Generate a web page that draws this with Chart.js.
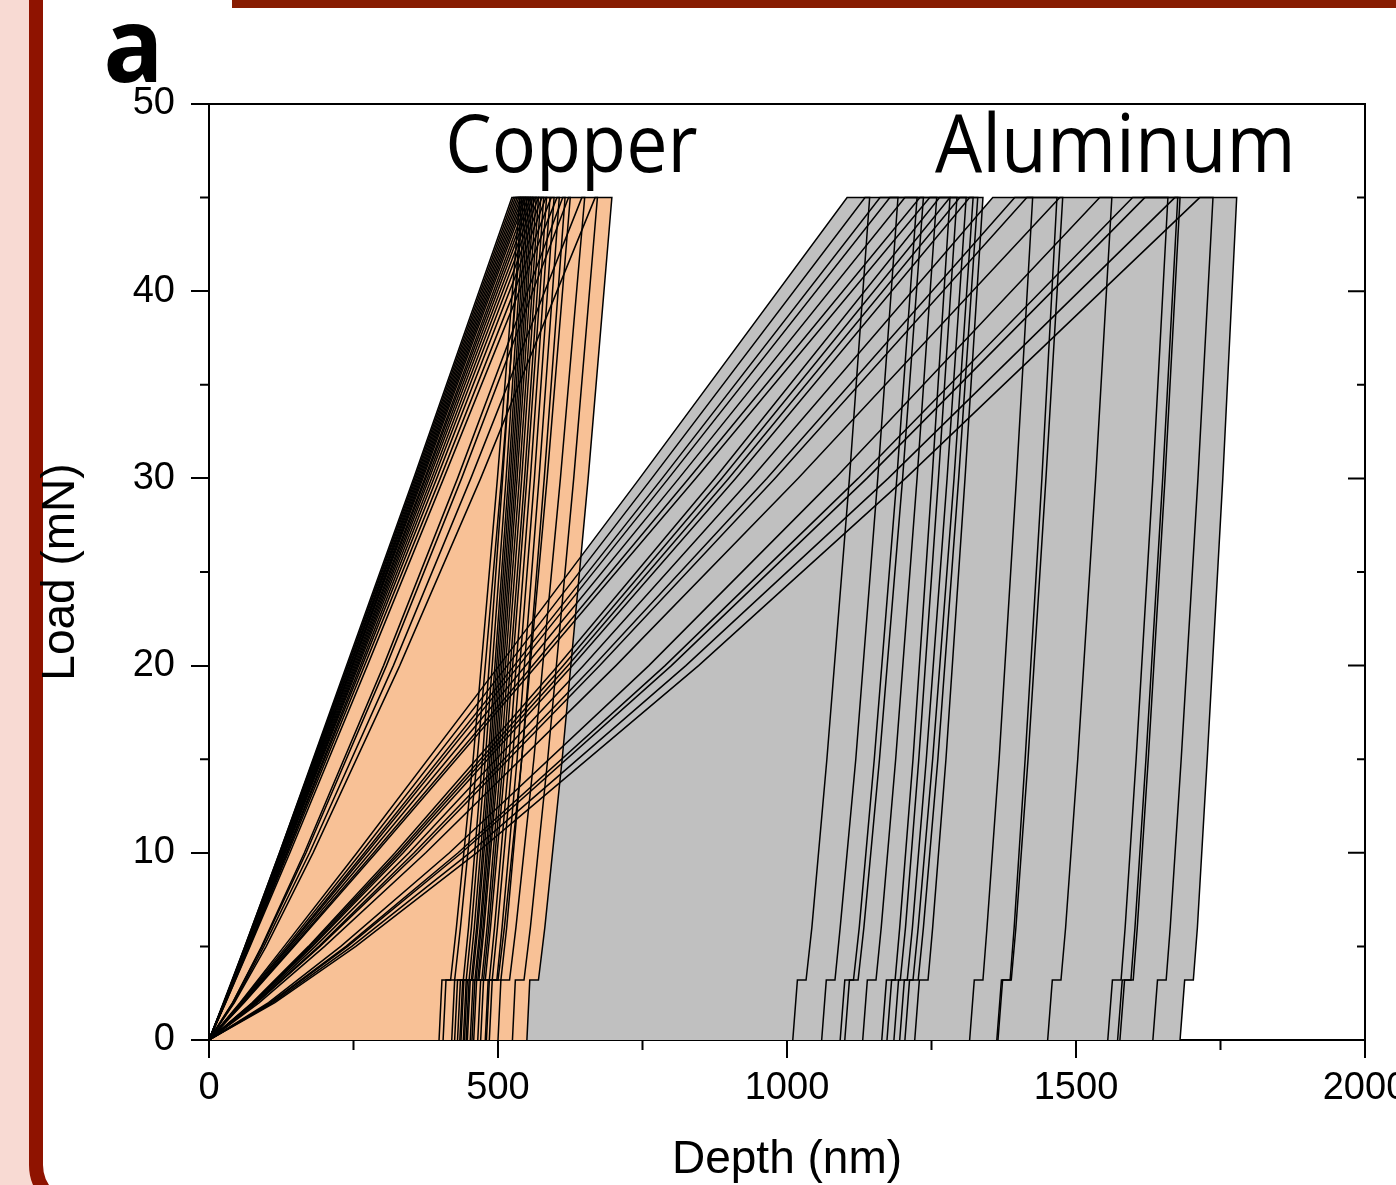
<!DOCTYPE html>
<html>
<head>
<meta charset="utf-8">
<script src="https://cdn.jsdelivr.net/npm/chart.js@4.4.1/dist/chart.umd.min.js"></script>
<style>
  html, body { margin: 0; padding: 0; width: 1396px; height: 1185px; overflow: hidden; background: #f8dad3; }
  #panel {
    position: absolute; left: 29px; top: -80px; width: 1500px; height: 1295px;
    box-sizing: border-box; border: 14px solid #8f1300; border-radius: 50px; background: #fff;
  }
  #topbar { position: absolute; left: 232px; top: 0; width: 1200px; height: 8px; background: #881d02; }
  #chartBox { position: absolute; left: 0; top: 0; width: 1440px; height: 1230px; }
</style>
</head>
<body>
<div id="panel"></div>
<div id="topbar"></div>
<div id="chartBox"><canvas id="chart"></canvas></div>
<script>
// load levels (mN) shared by every curve
const loadingLoads = [0, 2, 5, 10, 20, 30, 45];
const unloadingLoads = [45, 30, 15, 6, 3.2, 3.2, 0];

// depth (nm) of each copper curve at loadingLoads / unloadingLoads
const copperLoading = [
  [0, 25, 62, 122, 238, 354, 524],
  [0, 26, 62, 122, 240, 356, 527],
  [0, 26, 63, 123, 241, 358, 530],
  [0, 26, 63, 124, 243, 360, 533],
  [0, 26, 63, 124, 244, 362, 536],
  [0, 26, 64, 125, 245, 364, 539],
  [0, 26, 64, 126, 247, 366, 542],
  [0, 27, 64, 126, 248, 368, 545],
  [0, 27, 65, 127, 249, 370, 548],
  [0, 27, 65, 128, 251, 373, 552],
  [0, 27, 66, 129, 253, 375, 556],
  [0, 27, 66, 130, 255, 378, 560],
  [0, 28, 67, 131, 257, 381, 565],
  [0, 28, 67, 132, 259, 385, 570],
  [0, 28, 68, 134, 262, 389, 576],
  [0, 28, 69, 135, 265, 394, 583],
  [0, 29, 70, 137, 269, 400, 592],
  [0, 29, 71, 140, 274, 406, 602],
  [0, 41, 91, 165, 302, 430, 612],
  [0, 41, 92, 168, 307, 437, 622],
  [0, 43, 95, 174, 319, 453, 645],
  [0, 44, 99, 180, 330, 470, 668]
];
const copperUnloading = [
  [538, 499, 457, 428, 418, 403, 398],
  [541, 508, 473, 449, 440, 425, 420],
  [544, 506, 464, 435, 425, 410, 405],
  [547, 514, 478, 454, 445, 430, 425],
  [550, 518, 483, 459, 450, 435, 430],
  [553, 521, 486, 463, 454, 439, 434],
  [556, 524, 489, 465, 456, 441, 436],
  [559, 527, 492, 469, 460, 445, 440],
  [562, 530, 495, 471, 462, 447, 442],
  [566, 533, 498, 474, 465, 450, 445],
  [570, 537, 501, 476, 467, 452, 447],
  [574, 541, 505, 481, 472, 457, 452],
  [579, 546, 509, 484, 475, 460, 455],
  [584, 550, 513, 487, 478, 463, 458],
  [590, 556, 519, 494, 485, 470, 465],
  [597, 563, 525, 499, 490, 475, 470],
  [606, 571, 533, 507, 498, 483, 478],
  [616, 580, 541, 515, 505, 490, 485],
  [625, 585, 541, 511, 500, 485, 480],
  [650, 608, 562, 531, 520, 505, 500],
  [672, 631, 586, 556, 545, 530, 525],
  [697, 656, 611, 581, 570, 555, 550]
];

const aluminumLoading = [
  [0, 54, 130, 256, 502, 745, 1104],
  [0, 55, 134, 263, 516, 766, 1135],
  [0, 57, 137, 269, 528, 784, 1161],
  [0, 57, 139, 273, 536, 795, 1178],
  [0, 59, 142, 279, 548, 813, 1204],
  [0, 60, 145, 285, 560, 830, 1230],
  [0, 61, 147, 289, 567, 842, 1247],
  [0, 75, 172, 322, 604, 875, 1264],
  [0, 76, 174, 327, 613, 887, 1282],
  [0, 77, 177, 331, 621, 899, 1299],
  [0, 78, 179, 336, 629, 911, 1316],
  [0, 80, 184, 346, 648, 938, 1356],
  [0, 82, 190, 355, 666, 965, 1394],
  [0, 83, 192, 361, 676, 979, 1415],
  [0, 87, 200, 375, 704, 1019, 1472],
  [0, 103, 228, 416, 761, 1083, 1541],
  [0, 106, 237, 431, 789, 1123, 1598],
  [0, 108, 240, 437, 800, 1138, 1619],
  [0, 111, 247, 451, 825, 1175, 1671],
  [0, 114, 254, 463, 847, 1205, 1714]
];
const aluminumUnloading = [
  [1143, 1108, 1069, 1043, 1033, 1018, 1010],
  [1192, 1157, 1119, 1092, 1083, 1068, 1060],
  [1225, 1190, 1151, 1125, 1115, 1100, 1092],
  [1236, 1200, 1160, 1133, 1123, 1108, 1100],
  [1259, 1225, 1188, 1163, 1154, 1139, 1131],
  [1282, 1251, 1218, 1195, 1187, 1172, 1164],
  [1294, 1262, 1228, 1205, 1196, 1181, 1173],
  [1310, 1277, 1241, 1217, 1208, 1193, 1185],
  [1322, 1289, 1252, 1227, 1218, 1203, 1195],
  [1330, 1297, 1261, 1236, 1227, 1212, 1204],
  [1339, 1308, 1275, 1252, 1244, 1229, 1221],
  [1425, 1397, 1367, 1346, 1339, 1324, 1316],
  [1467, 1441, 1412, 1393, 1386, 1371, 1363],
  [1477, 1448, 1417, 1396, 1388, 1373, 1365],
  [1562, 1534, 1503, 1482, 1474, 1459, 1451],
  [1659, 1633, 1604, 1585, 1578, 1563, 1555],
  [1676, 1650, 1621, 1602, 1595, 1580, 1572],
  [1680, 1654, 1625, 1606, 1599, 1584, 1576],
  [1737, 1711, 1682, 1663, 1656, 1641, 1633],
  [1778, 1754, 1727, 1710, 1703, 1688, 1680]
];

const xMinorTicks = [250, 750, 1250, 1750];
const yMajorTicks = [0, 10, 20, 30, 40, 50];
const yMinorTicks = [5, 15, 25, 35, 45];

const COPPER_FILL = '#f8c196';
const ALUMINUM_FILL = '#c0c0c0';
const AXIS_FONT = '"Liberation Sans", Arial, sans-serif';

function curvePoints(loadDepths, unloadDepths) {
  const pts = loadDepths.map((d, i) => ({ x: d, y: loadingLoads[i] }));
  unloadDepths.forEach((d, i) => pts.push({ x: d, y: unloadingLoads[i] }));
  return pts;
}

const datasets = [];
// copper first so its fill ends up over the aluminum fill
copperLoading.forEach((row, i) => {
  datasets.push({ data: curvePoints(row, copperUnloading[i]), backgroundColor: COPPER_FILL });
});
aluminumLoading.forEach((row, i) => {
  datasets.push({ data: curvePoints(row, aluminumUnloading[i]), backgroundColor: ALUMINUM_FILL });
});
datasets.forEach(ds => {
  Object.assign(ds, {
    showLine: true, fill: 'shape', borderColor: '#000', borderWidth: 1.5,
    pointRadius: 0, tension: 0
  });
});

// top/right frame, minor ticks and the inward ticks on the right side
const frameTicks = {
  id: 'frameTicks',
  afterDraw(chart) {
    const { ctx, chartArea: a, scales: { x, y } } = chart;
    ctx.save();
    ctx.strokeStyle = '#000';
    ctx.lineWidth = 2;
    ctx.beginPath();
    ctx.moveTo(a.left, a.top);
    ctx.lineTo(a.right, a.top);
    ctx.lineTo(a.right, a.bottom);
    xMinorTicks.forEach(v => {
      const px = x.getPixelForValue(v);
      ctx.moveTo(px, a.bottom);
      ctx.lineTo(px, a.bottom + 10);
    });
    yMinorTicks.forEach(v => {
      const py = y.getPixelForValue(v);
      ctx.moveTo(a.left, py);
      ctx.lineTo(a.left - 9, py);
      ctx.moveTo(a.right, py);
      ctx.lineTo(a.right - 8, py);
    });
    yMajorTicks.forEach(v => {
      const py = y.getPixelForValue(v);
      ctx.moveTo(a.right, py);
      ctx.lineTo(a.right - 17, py);
    });
    ctx.stroke();
    ctx.restore();
  }
};

// panel letter and material names
const panelText = [
  { text: 'a', left: 107, base: 82, width: 49, font: 'bold 104px "Open Sans"' },
  { text: 'Copper', left: 449, base: 172, width: 248, font: '80px "Open Sans"' },
  { text: 'Aluminum', left: 935, base: 172, width: 355, font: '80px "Open Sans"' }
];
const textLabels = {
  id: 'textLabels',
  afterDraw(chart) {
    const ctx = chart.ctx;
    panelText.forEach(t => {
      ctx.save();
      ctx.font = t.font;
      ctx.fillStyle = '#000';
      ctx.textBaseline = 'alphabetic';
      const m = ctx.measureText(t.text);
      const w = m.actualBoundingBoxLeft + m.actualBoundingBoxRight;
      ctx.translate(t.left, t.base);
      ctx.scale(t.width / w, 1);
      ctx.fillText(t.text, m.actualBoundingBoxLeft, 0);
      ctx.restore();
    });
  }
};

new Chart(document.getElementById('chart'), {
  type: 'scatter',
  data: { datasets },
  options: {
    responsive: true,
    maintainAspectRatio: false,
    animation: false,
    layout: { padding: { left: 0, top: 104, right: 75, bottom: 0 } },
    plugins: {
      legend: { display: false },
      tooltip: { enabled: false },
      filler: { drawTime: 'beforeDatasetsDraw' }
    },
    scales: {
      x: {
        type: 'linear', min: 0, max: 2000,
        ticks: { stepSize: 500, color: '#000', padding: 8, maxRotation: 0, font: { family: AXIS_FONT, size: 38 }, callback: v => String(v) },
        grid: { drawOnChartArea: false, color: '#000', lineWidth: 2, tickLength: 18 },
        border: { color: '#000', width: 2 },
        title: { display: true, text: 'Depth (nm)', color: '#000', font: { family: AXIS_FONT, size: 46 }, padding: { top: 0, bottom: 42 } },
        afterFit: s => { s.height = 190; }
      },
      y: {
        type: 'linear', min: 0, max: 50,
        ticks: { stepSize: 10, color: '#000', padding: 16, font: { family: AXIS_FONT, size: 38 }, callback: v => String(v) },
        grid: { drawOnChartArea: false, color: '#000', lineWidth: 2, tickLength: 18 },
        border: { color: '#000', width: 2 },
        title: { display: true, text: 'Load (mN)', color: '#000', font: { family: AXIS_FONT, size: 46 }, padding: { top: 34, bottom: 0 } },
        afterFit: s => { s.width = 209; }
      }
    }
  },
  plugins: [frameTicks, textLabels]
});
</script>
</body>
</html>
